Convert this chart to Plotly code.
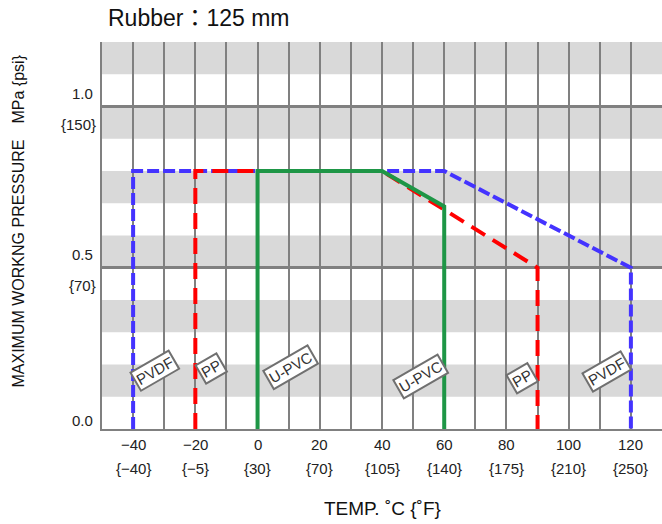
import plotly.graph_objects as go

# ---- data ----
pvdf_t = [-40, -40, 60, 120, 120]
pvdf_p = [0.0, 0.8, 0.8, 0.5, 0.0]
pp_t = [-20, -20, 40, 90, 90]
pp_p = [0.0, 0.8, 0.8, 0.5, 0.0]
upvc_t = [0, 0, 40, 60, 60]
upvc_p = [0.0, 0.8, 0.8, 0.69, 0.0]

x_ticks_c = [-40, -20, 0, 20, 40, 60, 80, 100, 120]
x_labels_c = ["\u221240", "\u221220", "0", "20", "40", "60", "80", "100", "120"]
x_labels_f = ["{\u221240}", "{\u22125}", "{30}", "{70}", "{105}", "{140}", "{175}", "{210}", "{250}"]

y_ticks = [0.0, 0.5, 1.0]
y_labels_mpa = ["0.0", "0.5", "1.0"]
y_labels_psi = ["", "{70}", "{150}"]

band_starts = [0.1, 0.3, 0.5, 0.7, 0.9, 1.1]

label_text = ["PVDF", "PP", "U-PVC", "U-PVC", "PP", "PVDF"]
label_t = [-32.9, -14.9, 10.5, 52.4, 84.9, 112.3]
label_p = [0.18, 0.189, 0.192, 0.164, 0.158, 0.177]

FONT = "Liberation Sans, Arial, Noto Sans CJK JP"
GRAY = "#808080"

fig = go.Figure()
fig.add_trace(go.Scatter(x=pvdf_t, y=pvdf_p, mode="lines",
                         line=dict(color="#4433FF", width=4, dash="12px,4px"), name="PVDF"))
fig.add_trace(go.Scatter(x=pp_t, y=pp_p, mode="lines",
                         line=dict(color="#FF0000", width=4, dash="16px,9px"), name="PP"))
fig.add_trace(go.Scatter(x=upvc_t, y=upvc_p, mode="lines",
                         line=dict(color="#1E9646", width=4), name="U-PVC"))

shapes = []
for b in band_starts:
    shapes.append(dict(type="rect", xref="paper", yref="y", x0=0, x1=1, y0=b, y1=b + 0.1,
                       fillcolor="#D9D9D9", line=dict(width=0), layer="below"))

ann = []
for t, c, f in zip(x_ticks_c, x_labels_c, x_labels_f):
    ann.append(dict(x=t, y=0, xref="x", yref="paper", text=c, showarrow=False,
                    yshift=-15, yanchor="middle", font=dict(size=15, color="#222", family=FONT)))
    ann.append(dict(x=t, y=0, xref="x", yref="paper", text=f, showarrow=False,
                    yshift=-39, yanchor="middle", font=dict(size=15, color="#222", family=FONT)))
for v, m, p in zip(y_ticks, y_labels_mpa, y_labels_psi):
    ann.append(dict(x=0, y=v, xref="paper", yref="y", text=m, showarrow=False,
                    xanchor="right", xshift=-7, yshift=(9 if v == 0 else 13), yanchor="middle",
                    font=dict(size=15, color="#222", family=FONT)))
    if p:
        ann.append(dict(x=0, y=v, xref="paper", yref="y", text=p, showarrow=False,
                        xanchor="right", xshift=-4, yshift=-18, yanchor="middle",
                        font=dict(size=15, color="#222", family=FONT)))
for txt, t, p in zip(label_text, label_t, label_p):
    ann.append(dict(x=t, y=p, xref="x", yref="y", text=txt, showarrow=False,
                    textangle=-30, bgcolor="white", bordercolor="#707070", borderwidth=2,
                    borderpad=1, font=dict(size=15, color="#333", family=FONT)))

ann.append(dict(x=0.5, y=0, xref="paper", yref="paper", text="TEMP. \u02daC {\u02daF}",
                showarrow=False, yshift=-79, yanchor="middle",
                font=dict(size=19, color="#111", family=FONT)))
ann.append(dict(x=0, y=0.5, xref="paper", yref="paper",
                text="MAXIMUM WORKNG PRESSURE\u3000MPa {psi}", showarrow=False, textangle=-90,
                xshift=-84, yshift=14, xanchor="center", yanchor="middle",
                font=dict(size=16, color="#111", family=FONT)))
ann.append(dict(x=0, y=1, xref="paper", yref="paper", text="Rubber\uff1a125 mm",
                showarrow=False, xanchor="left", yanchor="middle", xshift=4, yshift=24,
                font=dict(size=23, color="#111", family=FONT)))

fig.update_layout(
    width=662, height=524,
    margin=dict(l=102, r=0, t=42, b=95),
    paper_bgcolor="white", plot_bgcolor="white",
    showlegend=False,
    shapes=shapes, annotations=ann,
    xaxis=dict(range=[-50, 130], tickvals=x_ticks_c, showticklabels=False,
               showgrid=True, gridcolor=GRAY, gridwidth=2,
               minor=dict(dtick=10, tick0=0, showgrid=True, gridcolor=GRAY, gridwidth=2),
               showline=True, linecolor=GRAY, linewidth=2, zeroline=False, ticks=""),
    yaxis=dict(range=[0, 1.2], tickvals=[0.5, 1.0], showticklabels=False,
               showgrid=True, gridcolor=GRAY, gridwidth=3,
               showline=True, linecolor=GRAY, linewidth=2, zeroline=False, ticks=""),
)

fig.write_html("out.html", config={"displayModeBar": False},
               post_script="document.body.style.margin='0';")
